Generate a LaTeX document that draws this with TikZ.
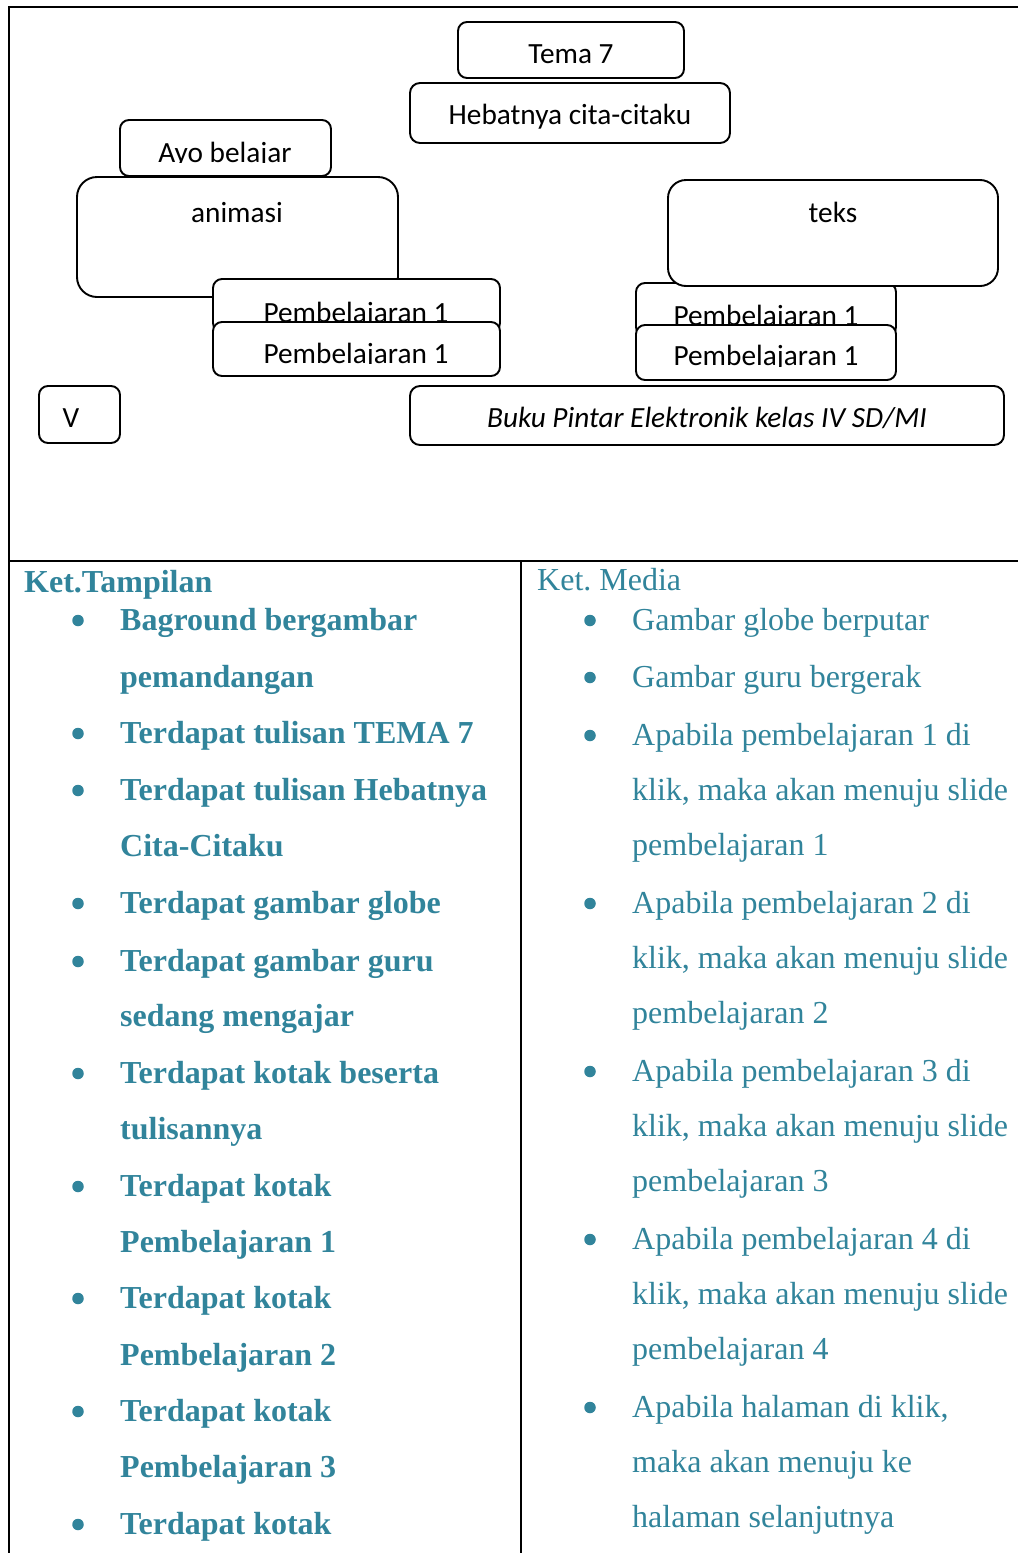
\documentclass[tikz,border=0pt]{standalone}
\usepackage{fontspec}
\setmainfont{Liberation Serif}
\newfontfamily\boxfont{Carlito}
\definecolor{teal1}{RGB}{49,132,155}
\frenchspacing
\begin{document}
\begin{tikzpicture}[x=1pt,y=-1pt,
  framel/.style={line width=2.4pt,black},
  cbox/.style={draw=black,line width=1.9pt,fill=white,inner sep=0pt,outer sep=0pt},
  btxt/.style={anchor=base,inner sep=0pt,font=\boxfont\fontsize{29.3}{34}\selectfont},
  colhead/.style={anchor=base west,inner sep=0pt,text=teal1,font=\fontsize{32}{38}\selectfont},
  ltxt/.style={anchor=base west,inner sep=0pt,text=teal1,font=\bfseries\fontsize{32}{38}\selectfont},
  rtxt/.style={anchor=base west,inner sep=0pt,text=teal1,font=\fontsize{32}{38}\selectfont},
  bul/.style={circle,fill=teal1,draw=none,inner sep=0pt,minimum size=11.5pt,yshift=9.5pt}]
\useasboundingbox (0,0) rectangle (1018,1553);

% table rules
\draw[framel] (9,7) -- (1018,7);
\draw[framel] (9,6) -- (9,1553);
\draw[framel] (9,561) -- (1018,561);
\draw[framel] (521,561) -- (521,1553);

% --- screen layout sketch ---
\draw[cbox,rounded corners=9] (458,22) rectangle (684,78);
\node[btxt] (tema) at (571,63) {Tema 7};

\draw[cbox,rounded corners=10] (410,83) rectangle (730,143);
\node[btxt] (hebat) at (570,124) {Hebatnya cita-citaku};

\draw[cbox,rounded corners=9] (120,120) rectangle (331,176);
\begin{scope}
  \clip (120,120) rectangle (331,162);
  \node[btxt] (ayo) at (225,162) {Ayo belajar};
\end{scope}

\draw[cbox,rounded corners=20] (77,177) rectangle (398,297);
\node[btxt] (anim) at (237,222) {animasi};

\draw[cbox,rounded corners=9] (213,279) rectangle (500,332);
\node[btxt] (pl1) at (356,322) {Pembelajaran 1};
\draw[cbox,rounded corners=9] (213,322) rectangle (500,376);
\begin{scope}
  \clip (213,322) rectangle (500,363);
  \node[btxt] (pl2) at (356,363) {Pembelajaran 1};
\end{scope}

\draw[cbox,rounded corners=9] (636,283) rectangle (896,336);
\node[btxt] (pr1) at (766,325) {Pembelajaran 1};
\draw[cbox,rounded corners=18] (668,180) rectangle (998,286);
\node[btxt] (teks) at (833,222) {teks};
\draw[cbox,rounded corners=9] (636,325) rectangle (896,380);
\begin{scope}
  \clip (636,325) rectangle (896,366);
  \node[btxt] (pr2) at (766,365) {Pembelajaran 1};
\end{scope}

\draw[cbox,rounded corners=9] (39,386) rectangle (120,443);
\node[btxt] (v) at (71,427) {V};

\draw[cbox,rounded corners=10] (410,386) rectangle (1004,445);
\node[btxt,font=\boxfont\itshape\fontsize{29.3}{34}\selectfont] (buku) at (707,427) {Buku Pintar Elektronik kelas IV SD/MI};

% --- left column: Ket.Tampilan ---
\node[colhead,font=\bfseries\fontsize{32}{38}\selectfont] (lh) at (24,592) {Ket.Tampilan};
\node[bul] (lb1) at (78,630) {};
\node[ltxt] (l1) at (120,630) {Baground bergambar};
\node[ltxt] (l2) at (120,687) {pemandangan};
\node[bul] (lb2) at (78,743) {};
\node[ltxt] (l3) at (120,743) {Terdapat tulisan TEMA 7};
\node[bul] (lb3) at (78,800) {};
\node[ltxt] (l4) at (120,800) {Terdapat tulisan Hebatnya};
\node[ltxt] (l5) at (120,856) {Cita-Citaku};
\node[bul] (lb4) at (78,913) {};
\node[ltxt] (l6) at (120,913) {Terdapat gambar globe};
\node[bul] (lb5) at (78,971) {};
\node[ltxt] (l7) at (120,971) {Terdapat gambar guru};
\node[ltxt] (l8) at (120,1026) {sedang mengajar};
\node[bul] (lb6) at (78,1083) {};
\node[ltxt] (l9) at (120,1083) {Terdapat kotak beserta};
\node[ltxt] (l10) at (120,1139) {tulisannya};
\node[bul] (lb7) at (78,1196) {};
\node[ltxt] (l11) at (120,1196) {Terdapat kotak};
\node[ltxt] (l12) at (120,1252) {Pembelajaran 1};
\node[bul] (lb8) at (78,1308) {};
\node[ltxt] (l13) at (120,1308) {Terdapat kotak};
\node[ltxt] (l14) at (120,1365) {Pembelajaran 2};
\node[bul] (lb9) at (78,1421) {};
\node[ltxt] (l15) at (120,1421) {Terdapat kotak};
\node[ltxt] (l16) at (120,1477) {Pembelajaran 3};
\node[bul] (lb10) at (78,1534) {};
\node[ltxt] (l17) at (120,1534) {Terdapat kotak};

% --- right column: Ket. Media ---
\node[colhead] (rh) at (537,590) {Ket. Media};
\node[bul] (rb1) at (590,630) {};
\node[rtxt] (r1) at (632,630) {Gambar globe berputar};
\node[bul] (rb2) at (590,687) {};
\node[rtxt] (r2) at (632,687) {Gambar guru bergerak};
\node[bul] (rb3) at (590,745) {};
\node[rtxt] (r3) at (632,745) {Apabila pembelajaran 1 di};
\node[rtxt] (r4) at (632,800) {klik, maka akan menuju slide};
\node[rtxt] (r5) at (632,855) {pembelajaran 1};
\node[bul] (rb4) at (590,913) {};
\node[rtxt] (r6) at (632,913) {Apabila pembelajaran 2 di};
\node[rtxt] (r7) at (632,968) {klik, maka akan menuju slide};
\node[rtxt] (r8) at (632,1023) {pembelajaran 2};
\node[bul] (rb5) at (590,1081) {};
\node[rtxt] (r9) at (632,1081) {Apabila pembelajaran 3 di};
\node[rtxt] (r10) at (632,1136) {klik, maka akan menuju slide};
\node[rtxt] (r11) at (632,1191) {pembelajaran 3};
\node[bul] (rb6) at (590,1249) {};
\node[rtxt] (r12) at (632,1249) {Apabila pembelajaran 4 di};
\node[rtxt] (r13) at (632,1304) {klik, maka akan menuju slide};
\node[rtxt] (r14) at (632,1359) {pembelajaran 4};
\node[bul] (rb7) at (590,1417) {};
\node[rtxt] (r15) at (632,1417) {Apabila halaman di klik,};
\node[rtxt] (r16) at (632,1472) {maka akan menuju ke};
\node[rtxt] (r17) at (632,1527) {halaman selanjutnya};
\end{tikzpicture}
\end{document}
